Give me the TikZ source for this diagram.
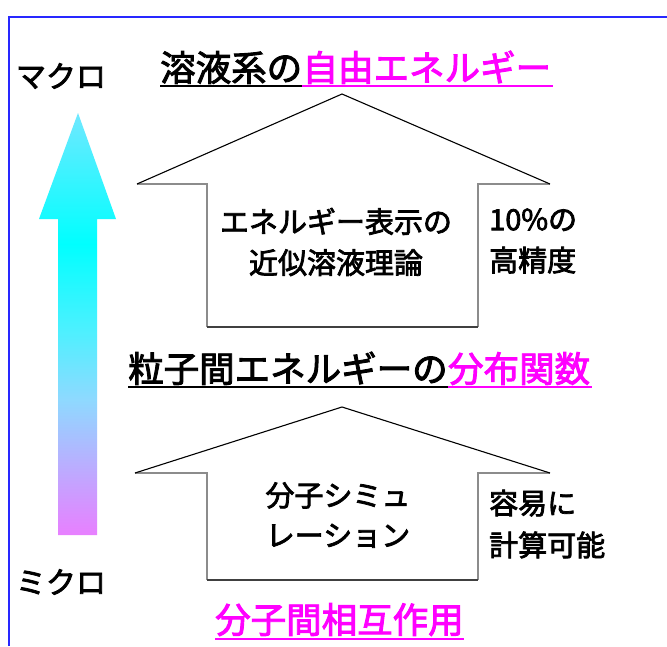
\documentclass[tikz,border=0pt]{standalone}
\usepackage{fontspec}
\setmainfont[FakeBold=2.6]{Noto Sans CJK JP}
\definecolor{mag}{RGB}{255,0,255}
\definecolor{framecol}{RGB}{40,40,255}
\pgfdeclareverticalshading{arrowshade}{100bp}{rgb(0bp)=(0.91,0.5,1); rgb(25bp)=(0.91,0.5,1); rgb(35bp)=(0.69,0.72,1); rgb(41bp)=(0.56,0.85,1); rgb(49bp)=(0.31,0.94,1); rgb(59.5bp)=(0,1,1); rgb(75bp)=(0.44,0.91,1); rgb(100bp)=(0.44,0.91,1)}
\tikzset{
  ttl/.style={inner sep=0pt, anchor=base west, font=\fontsize{35.5}{40}\selectfont},
  ulblack/.style={black, line width=1.6pt},
  ulmag/.style={mag, line width=1.6pt},
  inner/.style={inner sep=0pt, align=center, font=\fontsize{29}{41}\selectfont},
  side/.style={inner sep=0pt, anchor=west, align=left, font=\fontsize{29}{41}\selectfont},
  scalelabel/.style={inner sep=0pt, font=\fontsize{30}{36}\selectfont},
  slant/.style={black, line width=1.1pt},
  wall/.style={black!45, line width=1.6pt},
  floor/.style={black!75, line width=2.4pt},
}
\begin{document}
\begin{tikzpicture}[x=1pt, y=-1pt]
\useasboundingbox (0,0) rectangle (667,646);
\fill[white] (0,0) rectangle (667,646);
% frame
\draw[framecol, line width=2pt] (9,646) -- (9,17) -- (667,17);

% gradient arrow
\shade[shading=arrowshade] (78,113) -- (116,219) -- (97,219) -- (97,535) -- (58,535) -- (58,219) -- (39,219) -- cycle;
\node[scalelabel] (macro) at (61,76) {マクロ};
\node[scalelabel] (micro) at (61,582) {ミクロ};

% top title
\node[ttl] (t1a) at (160,81) {溶液系の};
\node[ttl, text=mag] (t1b) at (t1a.base east) {自由エネルギー};
\draw[ulblack] ([yshift=-5pt]t1a.base west) -- ([yshift=-5pt]t1a.base east);
\draw[ulmag] ([yshift=-5pt]t1b.base west) -- ([yshift=-5pt,xshift=2pt]t1b.base east);

% upper house
\coordinate (ua) at (342,94);
\coordinate (ul) at (137,184);
\coordinate (uli) at (207,184);
\coordinate (ulb) at (207,327);
\coordinate (urb) at (478,327);
\coordinate (uri) at (478,184);
\coordinate (ur) at (550,184);
\draw[wall] (ul) -- (uli) -- (ulb);
\draw[wall] (urb) -- (uri) -- (ur);
\draw[floor] (ulb) -- (urb);
\draw[slant, line join=miter] (ul) -- (ua) -- (ur);
\node[inner] (approx) at (336,242) {エネルギー表示の\\近似溶液理論};
\node[side] (prec) at (489,241) {10\%の\\高精度};

% middle title
\node[ttl] (t2a) at (128,382) {粒子間エネルギーの};
\node[ttl, text=mag] (t2b) at (t2a.base east) {分布関数};
\draw[ulblack] ([yshift=-5pt]t2a.base west) -- ([yshift=-5pt]t2a.base east);
\draw[ulmag] ([yshift=-5pt]t2b.base west) -- ([yshift=-5pt,xshift=2pt]t2b.base east);

% lower house
\coordinate (la) at (342,407);
\coordinate (ll) at (135,473);
\coordinate (lli) at (207,473);
\coordinate (llb) at (207,580);
\coordinate (lrb) at (478,580);
\coordinate (lri) at (478,473);
\coordinate (lr) at (550,473);
\draw[wall] (ll) -- (lli) -- (llb);
\draw[wall] (lrb) -- (lri) -- (lr);
\draw[floor] (llb) -- (lrb);
\draw[slant, line join=miter] (ll) -- (la) -- (lr);
\node[inner, font=\fontsize{29}{40}\selectfont] (sim) at (338,515) {分子シミュ\\レーション};
\node[side, font=\fontsize{29}{42}\selectfont] (easy) at (489,524) {容易に\\計算可能};

% bottom title
\node[ttl, text=mag] (t3) at (215,633) {分子間相互作用};
\draw[ulmag] ([yshift=-6pt]t3.base west) -- ([yshift=-6pt]t3.base east);
\end{tikzpicture}
\end{document}
